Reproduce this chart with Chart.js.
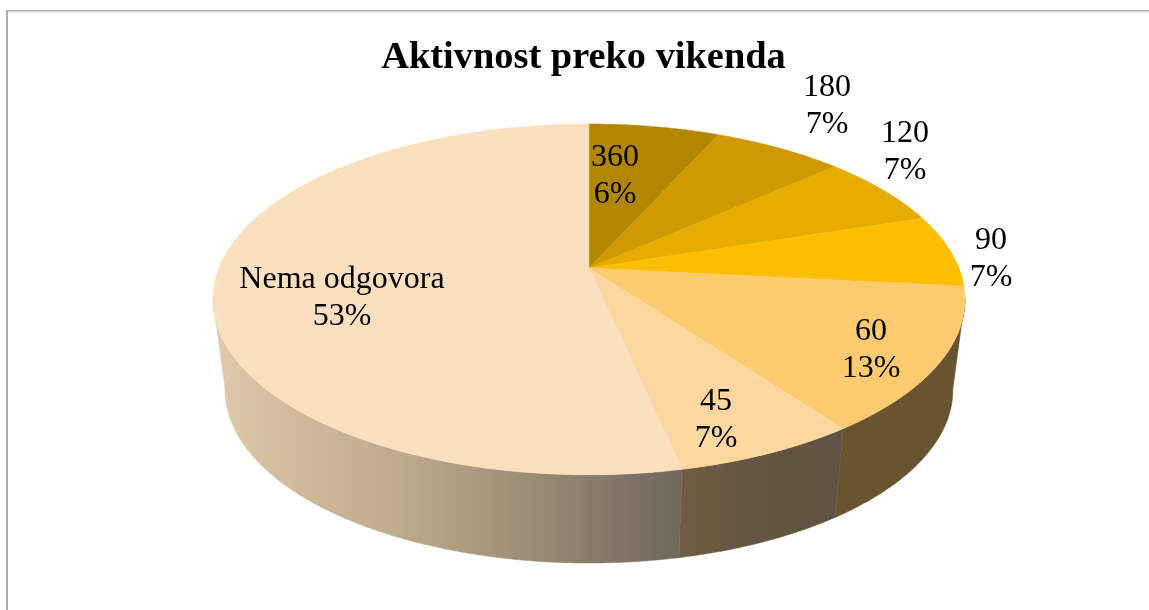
<!DOCTYPE html>
<html><head><meta charset="utf-8">
<style>html,body{margin:0;padding:0;background:#fff}#w{position:absolute;left:0;top:0;width:1149px;height:610px}</style>
<script src="https://cdn.jsdelivr.net/npm/chart.js@4"></script></head>
<body><div id="w"><canvas id="c"></canvas></div>
<script>
const categories = ['360','180','120','90','60','45','Nema odgovora'];
const shares = [6.67,6.67,6.67,6.67,13.33,6.67,53.33];
const percentLabels = ['6%','7%','7%','7%','13%','7%','53%'];
const titleText = 'Aktivnost preko vikenda';

const topColors = ['#B38600','#CE9A00','#E6AC00','#FBBE00','#FCCB70','#FCD79F','#FBE0BF'];
const wallStops = [
  [[0,'#8a6a10'],[1,'#8a6a10']],[[0,'#8a6a10'],[1,'#8a6a10']],[[0,'#8a6a10'],[1,'#8a6a10']],[[0,'#8a6a10'],[1,'#8a6a10']],
  [[0,'#69542E'],[1,'#68542F']],
  [[0,'#6F5D43'],[0.5,'#645540'],[1,'#5F5342']],
  [[0,'#E1CAAB'],[0.2,'#CFB898'],[0.4,'#BDAB8C'],[0.65,'#9E8F77'],[0.85,'#84776A'],[1,'#6F675A']]
];
// label centre for first line of each label, px
const labelLayout = [[615,158],[827,88],[905,134],[991,241],[871,332],[716,402],[342,280]];
const LINE = 37;

const P = 0.179;
const topDisc = {cx:589, cy:268, R:370, k:169.8};
const botDisc = {cx:589, cy:359, R:358, k:167.5};
const VIS_MIN = 100*Math.PI/180, VIS_MAX = 260*Math.PI/180;
function proj(d, th, r){
  r = r===undefined?1:r;
  const X = r*Math.sin(th), Y = -r*Math.cos(th), w = 1-P*Y;
  return [d.cx+d.R*X/w, d.cy+d.k*Y/w];
}
function arcPts(d,a,b){
  const n=Math.max(2,Math.ceil(Math.abs(b-a)/0.01)), o=[];
  for(let i=0;i<=n;i++) o.push(proj(d,a+(b-a)*i/n));
  return o;
}
const pie3d = {
  id:'pie3d',
  beforeDraw(chart){
    const c=chart.ctx;
    c.save();c.fillStyle='#fff';c.fillRect(0,0,chart.width,chart.height);
    c.fillStyle='#ADADAD';
    c.fillRect(6,10,2,600);c.fillRect(6,10,1143,1.5);
    c.restore();
  },
  beforeDatasetsDraw(chart){
    const c=chart.ctx, els=chart.getDatasetMeta(0).data;
    const spans=els.map(e=>[e.startAngle+Math.PI/2,e.endAngle+Math.PI/2]);
    c.save();
    spans.forEach((s,i)=>{
      const a=Math.max(s[0],VIS_MIN), b=Math.min(s[1],VIS_MAX);
      if(b<=a) return;
      const t=arcPts(topDisc,a,b), u=arcPts(botDisc,a,b).reverse(), all=t.concat(u);
      const xs=all.map(p=>p[0]), x0=Math.min(...xs), x1=Math.max(...xs);
      const g=c.createLinearGradient(x0,0,x1,0);
      wallStops[i].forEach(q=>g.addColorStop(q[0],q[1]));
      c.fillStyle=g;c.strokeStyle=g;c.lineWidth=0.5;
      c.beginPath();all.forEach((p,j)=>j?c.lineTo(p[0],p[1]):c.moveTo(p[0],p[1]));c.closePath();c.fill();c.stroke();
    });
    spans.forEach((s,i)=>{
      const t=arcPts(topDisc,s[0],s[1]);
      c.fillStyle=topColors[i];c.strokeStyle=topColors[i];c.lineWidth=0.5;
      c.beginPath();c.moveTo(topDisc.cx,topDisc.cy);t.forEach(p=>c.lineTo(p[0],p[1]));c.closePath();c.fill();c.stroke();
    });
    c.fillStyle='#000';c.textAlign='center';c.textBaseline='middle';
    c.font='32px "Liberation Serif"';
    categories.forEach((n,i)=>{
      const q=labelLayout[i];
      c.fillText(n,q[0],q[1]);
      c.fillText(percentLabels[i],q[0],q[1]+LINE);
    });
    c.restore();
    return false;
  }
};
new Chart(document.getElementById('c'),{
  type:'pie',
  data:{labels:categories,datasets:[{data:shares,backgroundColor:topColors,borderWidth:0}]},
  options:{
    responsive:true,maintainAspectRatio:false,animation:false,
    layout:{padding:{left:18,top:0,right:0,bottom:0}},
    plugins:{
      legend:{display:false},tooltip:{enabled:false},
      title:{display:true,text:titleText,color:'#000',padding:{top:35,bottom:0},
        font:{family:'"Liberation Serif"',size:38.4,weight:'bold',lineHeight:1.2}}
    }
  },
  plugins:[pie3d]
});
</script></body></html>
